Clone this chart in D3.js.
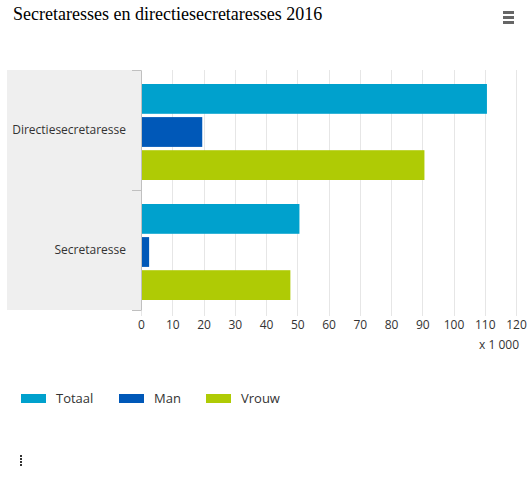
<!DOCTYPE html>
<html>
<head>
<meta charset="utf-8">
<script src="https://cdn.jsdelivr.net/npm/d3@7"></script>
<style>
  body { margin: 0; background: #fff; }
  text { font-family: 'Open Sans', sans-serif; }
</style>
</head>
<body>
<div id="chart"></div>
<script>
// data
var categories = ['Directiesecretaresse', 'Secretaresse']
var seriesNames = ['Totaal', 'Man', 'Vrouw']
var totaal = [110.7, 50.7]
var man = [19.6, 2.6]
var vrouw = [90.7, 47.8]
var xTicks = [0, 10, 20, 30, 40, 50, 60, 70, 80, 90, 100, 110, 120]
var colors = ['#00a1cd', '#0058b8', '#afcb05']

;(function () {
  var W = 527
  var H = 480
  var margin = { top: 70, right: 11, bottom: 170, left: 141 }
  var width = W - margin.left - margin.right
  var height = H - margin.top - margin.bottom

  var root = d3.select('#chart')
    .append('svg')
    .attr('width', W)
    .attr('height', H)

  // title
  root.append('text')
    .attr('x', 13)
    .attr('y', 20)
    .style('font-family', "'Liberation Serif', 'DejaVu Serif', serif")
    .style('font-size', '18px')
    .attr('fill', '#000')
    .text('Secretaresses en directiesecretaresses 2016')

  // menu icon
  ;[0, 5, 10].forEach(function (dy) {
    root.append('rect')
      .attr('x', 503).attr('y', 11 + dy)
      .attr('width', 11).attr('height', 3)
      .attr('fill', '#666')
  })

  var svg = root.append('g')
    .attr('transform', 'translate(' + margin.left + ',' + margin.top + ')')

  var x = d3.scaleLinear().domain([0, 120]).range([0, width])
  var y0 = d3.scaleBand().domain(categories).range([0, height])
  var y1 = d3.scaleBand().domain(seriesNames)
    .range([14, y0.bandwidth() - 10]).paddingInner(0.1)

  // label background
  svg.append('rect')
    .attr('x', 7 - margin.left)
    .attr('y', 0)
    .attr('width', margin.left - 7)
    .attr('height', height)
    .attr('fill', '#efefef')

  // gridlines
  svg.selectAll('.grid')
    .data(xTicks)
    .enter().append('line')
    .attr('class', 'grid')
    .attr('x1', function (d) { return Math.round(x(d)) + 0.5 })
    .attr('x2', function (d) { return Math.round(x(d)) + 0.5 })
    .attr('y1', 0)
    .attr('y2', height + 6)
    .attr('stroke', '#e6e6e6')

  var rows = [totaal, man, vrouw]
  var table = []
  categories.forEach(function (c, i) {
    seriesNames.forEach(function (s, j) {
      table.push({ cat: c, series: s, value: rows[j][i], color: colors[j] })
    })
  })

  svg.selectAll('.bar')
    .data(table)
    .enter().append('rect')
    .attr('class', 'bar')
    .attr('x', 1)
    .attr('y', function (d) { return y0(d.cat) + y1(d.series) })
    .attr('width', function (d) { return x(d.value) - 1 })
    .attr('height', y1.bandwidth())
    .attr('fill', function (d) { return d.color })

  // y axis
  var yAxis = d3.axisLeft(y0).tickSize(0).tickPadding(15)
  var yg = svg.append('g').attr('class', 'axis y-axis').call(yAxis)
  yg.select('.domain').attr('stroke', '#c0c0c0')
  yg.selectAll('text')
    .style('font-size', '12px')
    .attr('fill', '#333')
  // category separators
  var seps = [0, y0.bandwidth(), height]
  svg.selectAll('.sep')
    .data(seps)
    .enter().append('line')
    .attr('x1', -9).attr('x2', 0)
    .attr('y1', function (d) { return d + 0.5 })
    .attr('y2', function (d) { return d + 0.5 })
    .attr('stroke', '#c0c0c0')

  // x axis
  var xAxis = d3.axisBottom(x).tickValues(xTicks).tickSize(0).tickPadding(10)
  var xg = svg.append('g')
    .attr('class', 'axis x-axis')
    .attr('transform', 'translate(0,' + height + ')')
    .call(xAxis)
  xg.select('.domain').remove()
  xg.selectAll('text')
    .style('font-size', '12px')
    .attr('fill', '#333')

  svg.append('text')
    .attr('x', width + 3)
    .attr('y', height + 39)
    .attr('text-anchor', 'end')
    .style('font-size', '12px')
    .attr('fill', '#333')
    .text('x 1 000')

  // legend
  var legX = [21, 119, 206]
  var leg = root.selectAll('.leg')
    .data(seriesNames)
    .enter().append('g')
    .attr('class', 'leg')
    .attr('transform', function (d, i) { return 'translate(' + legX[i] + ',394)' })
  leg.append('rect')
    .attr('width', 25).attr('height', 9)
    .attr('fill', function (d, i) { return colors[i] })
  leg.append('text')
    .attr('x', 35).attr('y', 9)
    .style('font-size', '13px')
    .attr('fill', '#333')
    .text(function (d) { return d })

  // small icon bottom-left
  ;[0, 3, 6, 9].forEach(function (dy) {
    root.append('rect')
      .attr('x', 20).attr('y', 455 + dy)
      .attr('width', 2).attr('height', 2)
      .attr('fill', '#333')
  })
})()
</script>
</body>
</html>
